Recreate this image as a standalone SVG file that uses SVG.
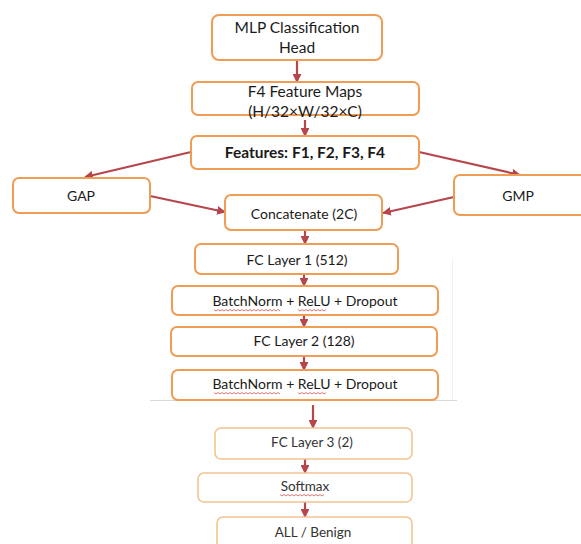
<svg xmlns="http://www.w3.org/2000/svg" width="581" height="544" viewBox="0 0 581 544">
<style>
.box{fill:#fff;stroke:#ef9c55;stroke-width:2}
.faded{fill:#fff;stroke:#f2c493;stroke-width:1.6}
.t{font-family:Lato,"Open Sans",sans-serif;fill:#1a1a1a;text-anchor:middle}
.ft{font-family:Lato,"Open Sans",sans-serif;fill:#333;text-anchor:middle}
.c{stroke:#b5464c;stroke-width:2.2;fill:none;marker-end:url(#ah)}
.sq{stroke:#d9534f;stroke-width:0.8;fill:none}
</style>
<defs>
<marker id="ah" viewBox="0 0 10 10" refX="9" refY="5" markerWidth="4" markerHeight="4" orient="auto" markerUnits="strokeWidth">
<path d="M0,0 L10,5 L0,10 z" fill="#b5464c"/>
</marker>
</defs>
<rect width="581" height="544" fill="#fff"/>
<line x1="150" y1="400.5" x2="457" y2="400.5" stroke="#d8d8d8" stroke-width="1"/>
<line x1="452.5" y1="258" x2="452.5" y2="400" stroke="#f2f2f2" stroke-width="1"/>

<g id="connectors">
<line class="c" x1="297" y1="60" x2="297" y2="82"/>
<line class="c" x1="305" y1="120" x2="305" y2="136"/>
<line class="c" x1="191" y1="152" x2="85" y2="177"/>
<line class="c" x1="419" y1="152" x2="520" y2="175"/>
<line class="c" x1="150" y1="196" x2="225" y2="212"/>
<line class="c" x1="454" y1="197" x2="383" y2="213"/>
<line class="c" x1="305" y1="230" x2="305" y2="244"/>
<line class="c" x1="304" y1="274" x2="304" y2="286"/>
<line class="c" x1="304" y1="315" x2="304" y2="327"/>
<line class="c" x1="304" y1="356" x2="304" y2="370"/>
<line class="c" x1="313" y1="405" x2="313" y2="428"/>
<line class="c" x1="305" y1="459" x2="305" y2="473"/>
<line class="c" x1="305" y1="502" x2="305" y2="517"/>
</g>

<g id="mlp-head">
<rect class="box" x="212" y="15" width="170" height="45" rx="7"/>
<text class="t" x="297" y="33" font-size="15.5">MLP Classification</text>
<text class="t" x="297" y="53" font-size="15.5">Head</text>
</g>
<g id="f4-maps">
<rect class="box" x="192" y="82" width="227" height="33" rx="6"/>
<text class="t" x="305" y="97" font-size="15.5">F4 Feature Maps</text>
<text class="t" x="305" y="117" font-size="15.5">(H/32×W/32×C)</text>
</g>
<g id="features">
<rect class="box" x="191" y="136" width="228" height="33" rx="6"/>
<text class="t" x="305" y="158" font-size="15.5" font-weight="bold">Features: F1, F2, F3, F4</text>
</g>
<g id="gap">
<rect class="box" x="13" y="178" width="137" height="35" rx="6"/>
<text class="t" x="81" y="201" font-size="14">GAP</text>
</g>
<g id="gmp">
<rect class="box" x="454" y="175" width="135" height="40" rx="6"/>
<text class="t" x="518" y="201" font-size="14">GMP</text>
</g>
<g id="concat">
<rect class="box" x="225" y="195" width="157" height="35" rx="6"/>
<text class="t" x="304" y="219" font-size="14">Concatenate (2C)</text>
</g>
<g id="fc1">
<rect class="box" x="195" y="244" width="203" height="30" rx="6"/>
<text class="t" x="297" y="265" font-size="14">FC Layer 1 (512)</text>
</g>
<g id="bn1">
<rect class="box" x="172" y="286" width="266" height="29" rx="6"/>
<text class="t" x="305" y="306" font-size="14">BatchNorm + ReLU + Dropout</text>
<path class="sq" d="M214,309.5 l2,1.5 2,-1.5 2,1.5 2,-1.5 2,1.5 2,-1.5 2,1.5 2,-1.5 2,1.5 2,-1.5 2,1.5 2,-1.5 2,1.5 2,-1.5 2,1.5 2,-1.5 2,1.5 2,-1.5 2,1.5 2,-1.5 2,1.5 2,-1.5 2,1.5 2,-1.5 2,1.5 2,-1.5 2,1.5 2,-1.5 2,1.5 2,-1.5 2,1.5 2,-1.5 2,1.5"/>
<path class="sq" d="M298,309.5 l2,1.5 2,-1.5 2,1.5 2,-1.5 2,1.5 2,-1.5 2,1.5 2,-1.5 2,1.5 2,-1.5 2,1.5 2,-1.5 2,1.5 2,-1.5"/>
</g>
<g id="fc2">
<rect class="box" x="171" y="327" width="266" height="29" rx="6"/>
<text class="t" x="304" y="346" font-size="14">FC Layer 2 (128)</text>
</g>
<g id="bn2">
<rect class="box" x="172" y="370" width="266" height="30" rx="6"/>
<text class="t" x="305" y="389" font-size="14">BatchNorm + ReLU + Dropout</text>
<path class="sq" d="M214,392.5 l2,1.5 2,-1.5 2,1.5 2,-1.5 2,1.5 2,-1.5 2,1.5 2,-1.5 2,1.5 2,-1.5 2,1.5 2,-1.5 2,1.5 2,-1.5 2,1.5 2,-1.5 2,1.5 2,-1.5 2,1.5 2,-1.5 2,1.5 2,-1.5 2,1.5 2,-1.5 2,1.5 2,-1.5 2,1.5 2,-1.5 2,1.5 2,-1.5 2,1.5 2,-1.5 2,1.5"/>
<path class="sq" d="M298,392.5 l2,1.5 2,-1.5 2,1.5 2,-1.5 2,1.5 2,-1.5 2,1.5 2,-1.5 2,1.5 2,-1.5 2,1.5 2,-1.5 2,1.5 2,-1.5"/>
</g>
<g id="fc3">
<rect class="faded" x="215" y="428" width="197" height="31" rx="6"/>
<text class="ft" x="312" y="447" font-size="13.5">FC Layer 3 (2)</text>
</g>
<g id="softmax">
<rect class="faded" x="198" y="473" width="214" height="29" rx="6"/>
<text class="ft" x="305" y="491" font-size="13.5">Softmax</text>
<path class="sq" d="M280,494.5 l2,1.5 2,-1.5 2,1.5 2,-1.5 2,1.5 2,-1.5 2,1.5 2,-1.5 2,1.5 2,-1.5 2,1.5 2,-1.5 2,1.5 2,-1.5 2,1.5 2,-1.5 2,1.5 2,-1.5 2,1.5 2,-1.5 2,1.5 2,-1.5"/>
</g>
<g id="output">
<rect class="faded" x="217" y="517" width="195" height="40" rx="6"/>
<text class="ft" x="313" y="537" font-size="13.5">ALL / Benign</text>
</g>
</svg>
